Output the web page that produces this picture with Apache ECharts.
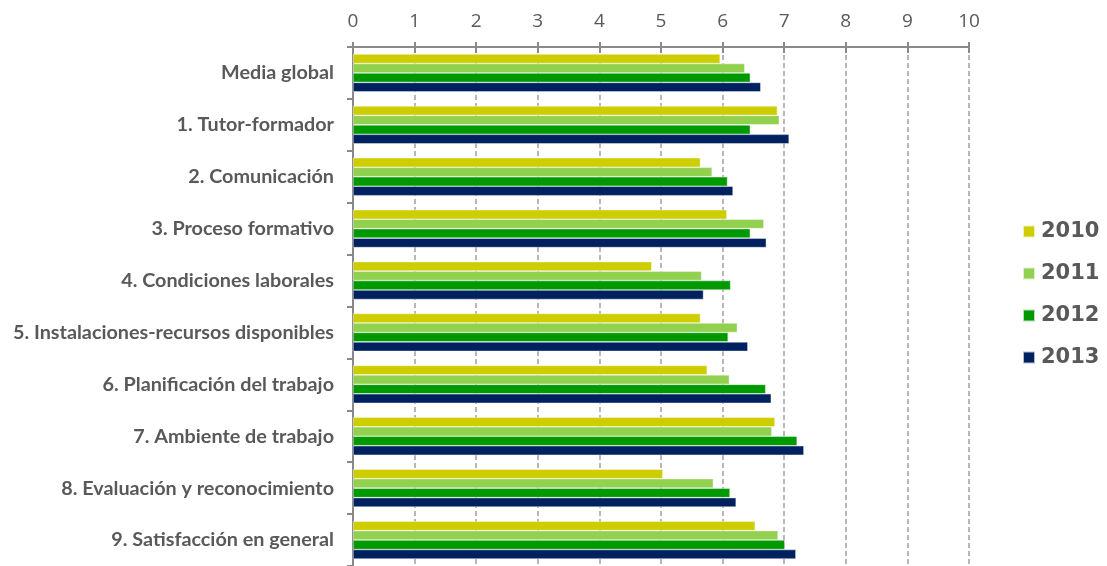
<!DOCTYPE html>
<html>
<head>
<meta charset="utf-8">
<script src="https://cdn.jsdelivr.net/npm/echarts@6/dist/echarts.min.js"></script>
<style>
  html, body { margin: 0; padding: 0; background: #ffffff; }
  #chart { width: 1107px; height: 566px; }
</style>
</head>
<body>
<div id="chart"></div>
<script>
// Survey dimensions, top to bottom
const categories = [
  'Media global',
  '1. Tutor-formador',
  '2. Comunicación',
  '3. Proceso formativo',
  '4. Condiciones laborales',
  '5. Instalaciones-recursos disponibles',
  '6. Planificación del trabajo',
  '7. Ambiente de trabajo',
  '8. Evaluación y reconocimiento',
  '9. Satisfacción en general'
];

const years = ['2010', '2011', '2012', '2013'];

// Average score per dimension, one array per year
const values2010 = [5.96, 6.89, 5.64, 6.07, 4.85, 5.64, 5.75, 6.85, 5.03, 6.53];
const values2011 = [6.36, 6.92, 5.83, 6.67, 5.66, 6.24, 6.11, 6.80, 5.85, 6.90];
const values2012 = [6.45, 6.45, 6.08, 6.45, 6.13, 6.09, 6.70, 7.21, 6.12, 7.01];
const values2013 = [6.62, 7.08, 6.17, 6.71, 5.69, 6.41, 6.79, 7.32, 6.22, 7.19];

const xTicks = [0, 1, 2, 3, 4, 5, 6, 7, 8, 9, 10];

const colors = ['#cdcd00', '#92d050', '#009a00', '#00215f'];
const seriesValues = [values2010, values2011, values2012, values2013];

const chart = echarts.init(document.getElementById('chart'), null, { renderer: 'canvas' });

const axisGray = '#898989';
const textGray = '#595959';

chart.setOption({
  animation: false,
  backgroundColor: '#ffffff',
  color: colors,
  grid: { left: 353, right: 138, top: 47, bottom: -3, containLabel: false },
  legend: {
    orient: 'vertical',
    left: 1022,
    top: 221,
    padding: 0,
    itemWidth: 12,
    itemHeight: 12,
    itemGap: 21,
    icon: 'rect',
    data: years,
    textStyle: {
      fontFamily: 'DejaVu Sans',
      fontWeight: 'bold',
      fontSize: 21,
      lineHeight: 21,
      color: textGray,
      padding: [0, 0, 0, 1]
    }
  },
  xAxis: [
    {
      type: 'value',
      position: 'top',
      min: xTicks[0],
      max: xTicks[xTicks.length - 1],
      interval: 1,
      axisLine: { show: true, lineStyle: { color: axisGray, width: 2 } },
      axisTick: { show: true, inside: false, length: 5, lineStyle: { color: axisGray, width: 2 } },
      axisLabel: {
        margin: 16,
        fontFamily: 'Open Sans',
        fontSize: 19,
        color: textGray
      },
      splitLine: {
        show: true,
        lineStyle: { color: '#a0a0a0', width: 1.5, type: [5, 3] }
      }
    },
    {
      // inner half of the crossing tick marks
      type: 'value',
      position: 'top',
      min: xTicks[0],
      max: xTicks[xTicks.length - 1],
      interval: 1,
      axisLine: { show: false },
      axisTick: { show: true, inside: true, length: 6, lineStyle: { color: axisGray, width: 2 } },
      axisLabel: { show: false },
      splitLine: { show: false }
    }
  ],
  yAxis: [
    {
      type: 'category',
      inverse: true,
      data: categories,
      axisLine: { show: true, lineStyle: { color: axisGray, width: 2 } },
      axisTick: { show: true, length: 6, lineStyle: { color: axisGray, width: 2 } },
      axisLabel: {
        margin: 19,
        fontFamily: 'Lato',
        fontWeight: 'bold',
        fontSize: 19.8,
        color: textGray
      }
    },
    {
      // solid right edge at 10
      type: 'category',
      position: 'right',
      inverse: true,
      data: categories,
      axisLine: { show: true, lineStyle: { color: axisGray, width: 2 } },
      axisTick: { show: false },
      axisLabel: { show: false }
    }
  ],
  series: years.map((y, i) => ({
    name: y,
    type: 'bar',
    data: seriesValues[i],
    barGap: '0%',
    barCategoryGap: '27%',
    itemStyle: { color: colors[i], borderColor: 'rgba(255,255,255,0.7)', borderWidth: 0.6 }
  }))
});
</script>
</body>
</html>
